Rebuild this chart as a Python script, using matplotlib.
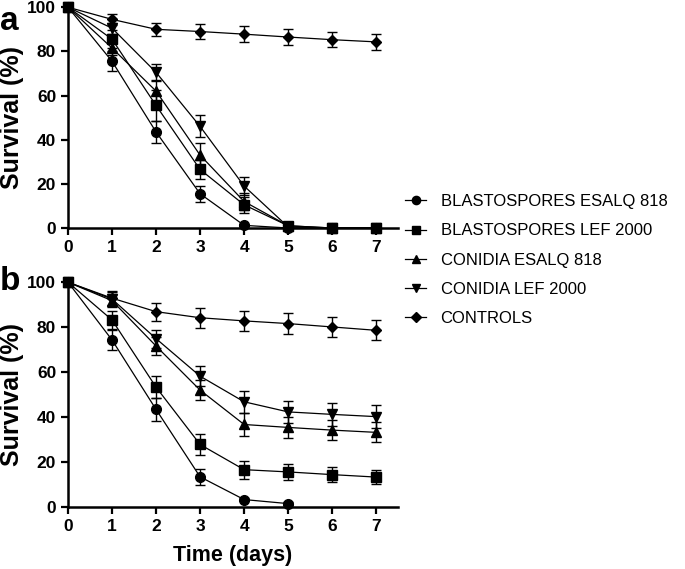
import numpy as np
import matplotlib
matplotlib.use("Agg")
from matplotlib import pyplot as plt
from matplotlib.lines import Line2D

plt.rcParams['font.family'] = ['Liberation Sans', 'DejaVu Sans']

days = [0, 1, 2, 3, 4, 5, 6, 7]
labels = ["BLASTOSPORES ESALQ 818", "BLASTOSPORES LEF 2000",
          "CONIDIA ESALQ 818", "CONIDIA LEF 2000", "CONTROLS"]
markers = ["o", "s", "^", "v", "D"]
msizes = [7, 7, 7, 7, 5.5]

# panel a
a_vals = [
    [100, 75.5, 43.5, 15.5, 1.2, 0, 0, 0],
    [100, 85.5, 55.5, 26.5, 10.5, 1, 0, 0],
    [100, 81.5, 62, 33, 12, 1, 0, 0],
    [100, 90.5, 70.5, 46, 19, 0.5, 0, 0],
    [100, 94.5, 90, 89, 87.8, 86.5, 85.3, 84.3],
]
a_err = [
    [0, 4.5, 5, 3.5, 0.5, 0, 0, 0],
    [0, 4, 7, 4.5, 3.5, 0.5, 0, 0],
    [0, 3, 5, 5.5, 4, 0.5, 0, 0],
    [0, 2.5, 4, 5, 4, 0.5, 0, 0],
    [0, 2.5, 3, 3.5, 3.5, 3.5, 3.5, 3.5],
]

# panel b
b_vals = [
    [100, 74.3, 43.4, 13.4, 3.3, 1.5],
    [100, 83.2, 53.3, 27.8, 16.6, 15.6, 14.4, 13.3],
    [100, 91.8, 71.6, 52, 36.7, 35.4, 34.2, 33.2],
    [100, 92.5, 74.9, 58.2, 46.8, 42.3, 41.2, 40.2],
    [100, 92.9, 86.9, 84.2, 82.8, 81.6, 80.1, 78.6],
]
b_err = [
    [0, 4.5, 5, 3.5, 0.5, 0.5],
    [0, 4, 5, 4.5, 4, 3.5, 3.5, 3],
    [0, 3, 4, 4.5, 5, 4.5, 4.5, 4.5],
    [0, 3, 4, 4.5, 5, 5, 5, 5],
    [0, 3, 4, 4.5, 4.5, 4.5, 4.5, 4.5],
]

fig = plt.figure(figsize=(6.85, 5.69), dpi=100)
ax_a = fig.add_axes([0.0993, 0.5993, 0.482, 0.388])
ax_b = fig.add_axes([0.0993, 0.109, 0.482, 0.395])


def draw(ax, vals, errs):
    for v, e, m, ms, lab in zip(vals, errs, markers, msizes, labels):
        x = days[:len(v)]
        ax.errorbar(x, v, yerr=e, color="black", marker=m, markersize=ms,
                    linewidth=0.9, elinewidth=1.0, capsize=3.5, capthick=1.0,
                    label=lab, clip_on=False, zorder=3)
    ax.set_xlim(0, 7.5)
    ax.set_ylim(0, 100)
    ax.set_xticks(range(8))
    ax.set_yticks([0, 20, 40, 60, 80, 100])
    for s in ["top", "right"]:
        ax.spines[s].set_visible(False)
    for s in ["left", "bottom"]:
        ax.spines[s].set_linewidth(1.8)
    ax.tick_params(width=1.6, length=5, labelsize=12.5)
    for t in ax.get_xticklabels() + ax.get_yticklabels():
        t.set_fontweight("bold")
    ax.set_ylabel("Survival (%)", fontsize=18, fontweight="bold", va="center")
    ax.yaxis.set_label_coords(-0.17, 0.5)


draw(ax_a, a_vals, a_err)
draw(ax_b, b_vals, b_err)
ax_b.set_xlabel("Time (days)", fontsize=15.5, fontweight="bold", labelpad=8)

fig.text(0.0, 0.99, "a", fontsize=24, fontweight="bold", va="top")
fig.text(0.0, 0.505, "b", fontsize=24, fontweight="bold", va="center")

leg_handles = [Line2D([], [], color="black", marker=m, markersize=ms * 0.85, linewidth=0.9)
               for m, ms in zip(markers, msizes)]
fig.legend(leg_handles, labels, loc="center left", bbox_to_anchor=(0.569, 0.543),
           frameon=False, fontsize=12, handlelength=1.3, handletextpad=0.85,
           labelspacing=0.85)

fig.savefig("out.png", dpi=100)
